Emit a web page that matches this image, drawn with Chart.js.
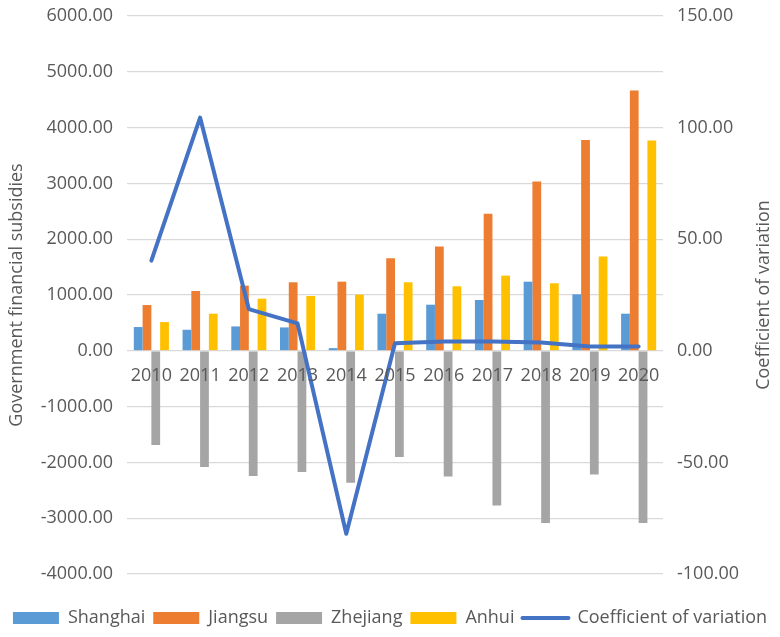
<!DOCTYPE html>
<html>
<head>
<meta charset="utf-8">
<script src="https://cdn.jsdelivr.net/npm/chart.js@4/dist/chart.umd.min.js"></script>
<style>
  html, body { margin: 0; padding: 0; background: #fff; }
  #wrap { width: 780px; height: 637px; }
</style>
</head>
<body>
<div id="wrap"><canvas id="chart" width="780" height="637"></canvas></div>
<script>
const years = ['2010', '2011', '2012', '2013', '2014', '2015', '2016', '2017', '2018', '2019', '2020']
const shanghai = [426, 377, 437, 419, 48, 665, 826, 910, 1239, 1012, 665]
const jiangsu = [820, 1072, 1168, 1228, 1239, 1659, 1868, 2455, 3036, 3778, 4665]
const zhejiang = [-1689, -2084, -2245, -2174, -2365, -1904, -2251, -2772, -3084, -2216, -3084]
const anhui = [515, 665, 934, 982, 1006, 1228, 1156, 1347, 1210, 1689, 3767]
const cv = [40.4, 104.5, 18.7, 12.3, -82.0, 3.4, 4.2, 4.2, 3.7, 1.9, 1.9]

const textColor = '#595959'
const gridColor = '#d9d9d9'
const fontFamily = "'Open Sans', sans-serif"

Chart.defaults.font.family = fontFamily
Chart.defaults.font.size = 18
Chart.defaults.color = textColor

// right axis title reads bottom-to-top like Excel, so draw it ourselves
const rightTitle = {
  id: 'rightTitle',
  afterDraw(chart) {
    const { ctx, chartArea } = chart
    ctx.save()
    ctx.translate(764, (chartArea.top + chartArea.bottom) / 2)
    ctx.rotate(-Math.PI / 2)
    ctx.font = '18px ' + fontFamily
    ctx.fillStyle = textColor
    ctx.textAlign = 'center'
    ctx.textBaseline = 'middle'
    ctx.fillText('Coefficient of variation', 0, 0)
    ctx.restore()
  },
}

const bar = (label, data, color) => ({
  label,
  data,
  backgroundColor: color,
  borderWidth: 0,
  yAxisID: 'y',
  order: 1,
})

// fixed axis widths so the plot area sits where the reference has it
const fixWidth = (w) => (scale) => {
  scale.width = w
  scale.paddingTop = 0
  scale.paddingBottom = 0
}

new Chart(document.getElementById('chart'), {
  type: 'bar',
  data: {
    labels: years,
    datasets: [
      bar('Shanghai', shanghai, '#5B9BD5'),
      bar('Jiangsu', jiangsu, '#ED7D31'),
      bar('Zhejiang', zhejiang, '#A5A5A5'),
      bar('Anhui', anhui, '#FFC000'),
      {
        type: 'line',
        label: 'Coefficient of variation',
        data: cv,
        borderColor: '#4472C4',
        backgroundColor: '#4472C4',
        borderWidth: 4,
        pointRadius: 0,
        tension: 0,
        borderCapStyle: 'round',
        borderJoinStyle: 'round',
        yAxisID: 'y1',
        order: 0,
      },
    ],
  },
  options: {
    responsive: false,
    animation: false,
    categoryPercentage: 0.72,
    barPercentage: 1,
    layout: { padding: { top: 16, bottom: 0, left: 0, right: 0 } },
    plugins: {
      tooltip: { enabled: false },
      legend: {
        position: 'bottom',
        labels: {
          usePointStyle: true,
          pointStyleWidth: 46,
          boxHeight: 12,
          padding: 8,
          color: textColor,
          font: { size: 18 },
          generateLabels(chart) {
            const items = Chart.defaults.plugins.legend.labels.generateLabels(chart)
            items.sort((a, b) => a.datasetIndex - b.datasetIndex)
            return items.map((item) => {
              if (item.datasetIndex === 4) {
                item.pointStyle = 'line'
                item.lineWidth = 4
                item.strokeStyle = '#4472C4'
                item.lineCap = 'round'
              } else {
                item.pointStyle = 'rect'
                item.lineWidth = 0
              }
              return item
            })
          },
        },
      },
    },
    scales: {
      x: {
        position: { y: 0 },
        grid: { display: false, drawTicks: false },
        border: { display: false },
        ticks: { z: 1, padding: 14, maxRotation: 0, autoSkip: false, color: textColor },
      },
      xpad: {
        type: 'category',
        axis: 'x',
        position: 'bottom',
        grid: { display: false, drawTicks: false },
        border: { display: false },
        ticks: { display: false },
        afterFit(scale) {
          scale.height = 27
        },
      },
      y: {
        position: 'left',
        min: -4000,
        max: 6000,
        grid: { color: gridColor, lineWidth: 1.3, drawTicks: false },
        border: { display: false },
        ticks: {
          stepSize: 1000,
          padding: 14,
          color: textColor,
          callback: (v) => v.toFixed(2),
        },
        title: {
          display: true,
          text: 'Government financial subsidies',
          color: textColor,
          font: { size: 18 },
          padding: { top: 6, bottom: 0 },
        },
        afterFit: fixWidth(127),
      },
      y1: {
        position: 'right',
        min: -100,
        max: 150,
        grid: { display: false, drawTicks: false },
        border: { display: false },
        ticks: {
          stepSize: 50,
          padding: 14,
          color: textColor,
          callback: (v) => v.toFixed(2),
        },
        afterFit: fixWidth(117),
      },
    },
  },
  plugins: [rightTitle],
})
</script>
</body>
</html>
